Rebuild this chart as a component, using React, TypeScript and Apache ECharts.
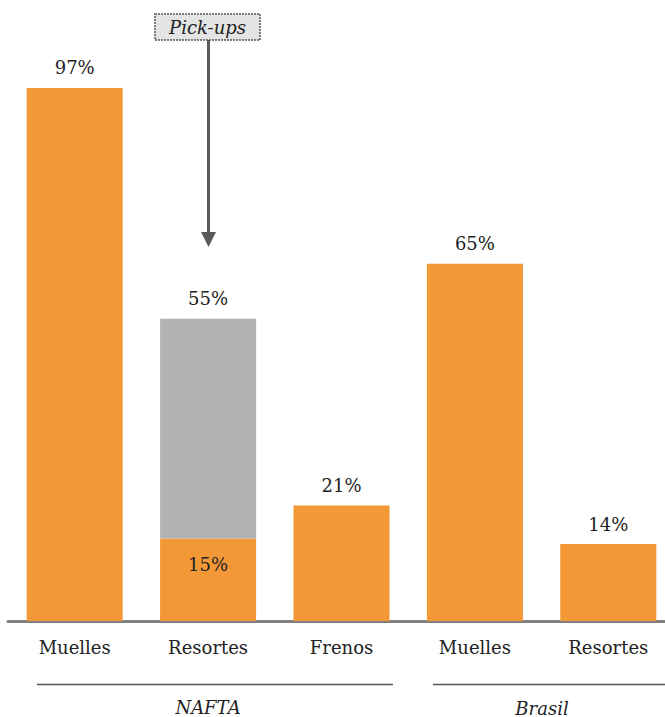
import React, { useEffect, useRef } from "react";
import * as echarts from "echarts";

const categories = ["Muelles", "Resortes", "Frenos", "Muelles", "Resortes"];
const baseValues = [97, 15, 21, 65, 14];
const pickupValues = [0, 40, 0, 0, 0];
const groups = ["NAFTA", "Brasil"];
const calloutText = "Pick-ups";

const ORANGE = "#F39837";
const GRAY = "#B3B3B3";
const FONT = "DejaVu Serif";

export default function App() {
  const ref = useRef<HTMLDivElement>(null);
  useEffect(() => {
    document.body.style.margin = "0";
    const chart = echarts.init(ref.current!, null, { renderer: "svg" });
    const totals = baseValues.map((v, i) => v + pickupValues[i]);
    const labelStyle = { fontFamily: FONT, fontSize: 18, color: "#222" };
    const groupText = (x: number, y: number, text: string) => ({
      type: "text",
      x,
      y,
      style: {
        text,
        fontFamily: FONT,
        fontStyle: "italic",
        fontSize: 18,
        fill: "#222",
        align: "center",
        verticalAlign: "middle",
      },
    });
    chart.setOption({
      animation: false,
      textStyle: { fontFamily: FONT },
      grid: { left: 8, top: 71.5, width: 667, height: 549.5 },
      xAxis: {
        type: "category",
        data: categories,
        axisLine: { lineStyle: { color: "#808080", width: 3 } },
        axisTick: { show: false },
        axisLabel: { ...labelStyle, margin: 17 },
      },
      yAxis: { type: "value", min: 0, max: 100, show: false, splitLine: { show: false } },
      series: [
        {
          type: "bar",
          stack: "a",
          barWidth: "72%",
          itemStyle: { color: ORANGE },
          data: baseValues.map((v, i) => ({
            value: v,
            label: pickupValues[i] > 0
              ? { show: true, position: "insideTop", distance: 17, ...labelStyle, formatter: "{c}%" }
              : { show: true, position: "top", distance: 11, ...labelStyle, formatter: "{c}%" },
          })),
        },
        {
          type: "bar",
          stack: "a",
          barWidth: "72%",
          itemStyle: { color: GRAY },
          data: pickupValues.map((v, i) => ({
            value: v > 0 ? v : null,
            label: {
              show: v > 0,
              position: "top",
              distance: 11,
              ...labelStyle,
              formatter: () => totals[i] + "%",
            },
          })),
        },
      ],
      graphic: [
        {
          type: "rect",
          shape: { x: 155, y: 14, width: 105, height: 26 },
          style: { fill: "#E4E4E4", stroke: "#555", lineWidth: 1.5, lineDash: [2, 1] },
        },
        groupText(207.5, 27, calloutText),
        {
          type: "line",
          shape: { x1: 208.5, y1: 40, x2: 208.5, y2: 234 },
          style: { stroke: "#5A5A5A", lineWidth: 3 },
        },
        {
          type: "polygon",
          shape: { points: [[201, 232], [216, 232], [208.5, 247]] },
          style: { fill: "#5A5A5A" },
        },
        {
          type: "line",
          shape: { x1: 37, y1: 684.5, x2: 393, y2: 684.5 },
          style: { stroke: "#555", lineWidth: 1.5 },
        },
        {
          type: "line",
          shape: { x1: 433, y1: 684.5, x2: 680, y2: 684.5 },
          style: { stroke: "#555", lineWidth: 1.5 },
        },
        groupText(208, 707, groups[0]),
        groupText(542, 708, groups[1]),
      ],
    });
    return () => chart.dispose();
  }, []);
  return (
    <div style={{ width: 665, height: 717, overflow: "hidden", position: "relative" }}>
      <div ref={ref} style={{ width: 680, height: 717 }} />
    </div>
  );
}
